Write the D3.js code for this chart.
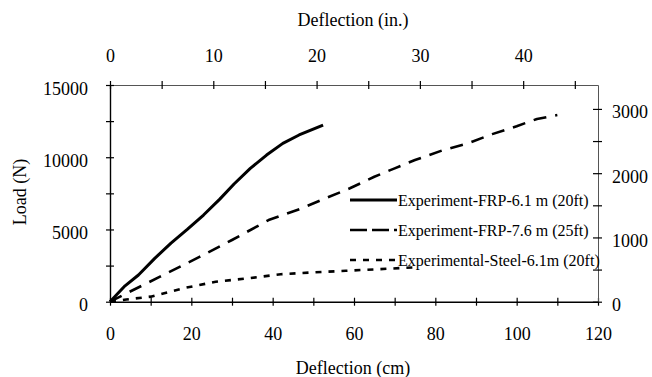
<!DOCTYPE html>
<html>
<head>
<meta charset="utf-8">
<script src="https://cdn.jsdelivr.net/npm/d3@7"></script>
<style>
  body { margin: 0; background: #fff; }
</style>
</head>
<body>
<div id="chart"></div>
<script>
// FRP-6.1 m (20ft)
var frp61Cm = [0, 3.7, 7, 11, 15, 19, 23, 27, 30.5, 34.5, 38.5, 42.5, 46.5, 52.4];
var frp61N  = [0, 1100, 1850, 3000, 4050, 5000, 6000, 7100, 8150, 9230, 10150, 10960, 11540, 12230];
// FRP-7.6 m (25ft)
var frp76Cm = [0, 5.7, 12.3, 22, 30, 39, 47, 53, 59, 65, 70, 75, 82, 88, 94, 100, 105, 110];
var frp76N  = [0, 810, 1730, 3100, 4270, 5650, 6450, 7160, 7850, 8650, 9230, 9810, 10500, 10960, 11600, 12150, 12650, 12920];
// Steel-6.1m (20ft)
var steelCm = [0, 4, 10, 18, 26, 34, 42, 50, 58, 66, 75];
var steelN  = [0, 150, 350, 930, 1380, 1620, 1900, 2030, 2140, 2250, 2380];

var seriesNames = ["Experiment-FRP-6.1 m (20ft)", "Experiment-FRP-7.6 m (25ft)", "Experimental-Steel-6.1m (20ft)"];

var cmTicks = [0, 10, 20, 30, 40, 50, 60, 70, 80, 90, 100, 110, 120];
var inTicks = [0, 5, 10, 15, 20, 25, 30, 35, 40, 45];
var nTicks  = [0, 2500, 5000, 7500, 10000, 12500, 15000];
var lbTicks = [0, 500, 1000, 1500, 2000, 2500, 3000];

(function() {
var width = 652, height = 377;
var pLeft = 110, pRight = 598, pTop = 85, pBottom = 301.7;
var serif = "Liberation Serif, DejaVu Serif, serif";

var svg = d3.select("#chart").append("svg")
    .attr("width", width).attr("height", height);

var x = d3.scaleLinear().domain([0, 120]).range([pLeft, pRight]);
var y = d3.scaleLinear().domain([0, 15000]).range([pBottom, pTop]);
var xIn = d3.scaleLinear().domain([0, 120 / 2.54]).range([pLeft, pRight]);
var yLb = d3.scaleLinear().domain([0, 15000 / 4.448]).range([pBottom, pTop]);

// axes
var gBottom = svg.append("g").attr("transform", "translate(0," + pBottom + ")")
    .call(d3.axisBottom(x).tickValues(cmTicks).tickSizeInner(4).tickSizeOuter(0)
        .tickFormat(function(d) { return d % 20 === 0 ? d : ""; }));
gBottom.selectAll(".tick line").attr("y1", -4);
gBottom.selectAll(".tick text").attr("y", 38.3).attr("dy", 0);

var gTop = svg.append("g").attr("transform", "translate(0," + pTop + ")")
    .call(d3.axisTop(xIn).tickValues(inTicks).tickSizeInner(4).tickSizeOuter(0)
        .tickFormat(function(d) { return d % 10 === 0 && d < 45 ? d : ""; }));
gTop.selectAll(".tick line").attr("y1", 4);
gTop.selectAll(".tick text").attr("y", -23).attr("dy", 0);

var gLeft = svg.append("g").attr("transform", "translate(" + pLeft + ",0)")
    .call(d3.axisLeft(y).tickValues(nTicks).tickSizeInner(4).tickSizeOuter(0)
        .tickFormat(function(d) { return d % 5000 === 0 ? d : ""; }));
gLeft.selectAll(".tick line").attr("x1", 4);
gLeft.selectAll(".tick text").attr("x", -22).attr("dy", 9);

var gRight = svg.append("g").attr("transform", "translate(" + pRight + ",0)")
    .call(d3.axisRight(yLb).tickValues(lbTicks).tickSizeInner(4).tickSizeOuter(0)
        .tickFormat(function(d) { return d % 1000 === 0 ? d : ""; }));
gRight.selectAll(".tick line").attr("x1", -5);
gRight.selectAll(".tick text").attr("x", 14).attr("dy", 9);

svg.selectAll("g").attr("font-family", serif);
svg.selectAll(".domain").attr("stroke", "#000").attr("stroke-width", 1.4);
gTop.select(".domain").attr("stroke", "#555").attr("stroke-width", 1);
gRight.select(".domain").attr("stroke", "#555").attr("stroke-width", 1);
svg.selectAll(".tick line").attr("stroke", "#000").attr("stroke-width", 1.2);
svg.selectAll(".tick text").attr("fill", "#000")
    .attr("font-family", serif).attr("font-size", 18);

// titles
svg.append("text").attr("x", 353).attr("y", 26).attr("text-anchor", "middle")
    .attr("font-family", serif).attr("font-size", 18).text("Deflection (in.)");
svg.append("text").attr("x", 353).attr("y", 374).attr("text-anchor", "middle")
    .attr("font-family", serif).attr("font-size", 18).text("Deflection (cm)");
svg.append("text").attr("transform", "translate(26,192)rotate(-90)").attr("text-anchor", "middle")
    .attr("font-family", serif).attr("font-size", 18).text("Load (N)");

// lines
var line = d3.line().x(function(d) { return x(d[0]); }).y(function(d) { return y(d[1]); });
var styles = [
    { w: 3, dash: null, legendDash: null },
    { w: 2.6, dash: "13,9", legendDash: "17,5" },
    { w: 2.6, dash: "6,7", legendDash: "6,7" }
];
var series = [
    d3.zip(frp61Cm, frp61N),
    d3.zip(frp76Cm, frp76N),
    d3.zip(steelCm, steelN)
];

series.forEach(function(s, i) {
    svg.append("path").datum(s)
        .attr("d", line)
        .attr("fill", "none")
        .attr("stroke", "#000")
        .attr("stroke-width", styles[i].w)
        .attr("stroke-linejoin", "round")
        .attr("stroke-dasharray", styles[i].dash);
});

// legend
var legend = svg.append("g");
seriesNames.forEach(function(name, i) {
    var ly = 200 + i * 30;
    legend.append("line")
        .attr("x1", 350).attr("x2", 397).attr("y1", ly).attr("y2", ly)
        .attr("stroke", "#000")
        .attr("stroke-width", styles[i].w)
        .attr("stroke-dasharray", styles[i].legendDash);
    legend.append("text").attr("x", 398).attr("y", ly + 6)
        .attr("font-family", serif).attr("font-size", 16).text(name);
});
})();
</script>
</body>
</html>
